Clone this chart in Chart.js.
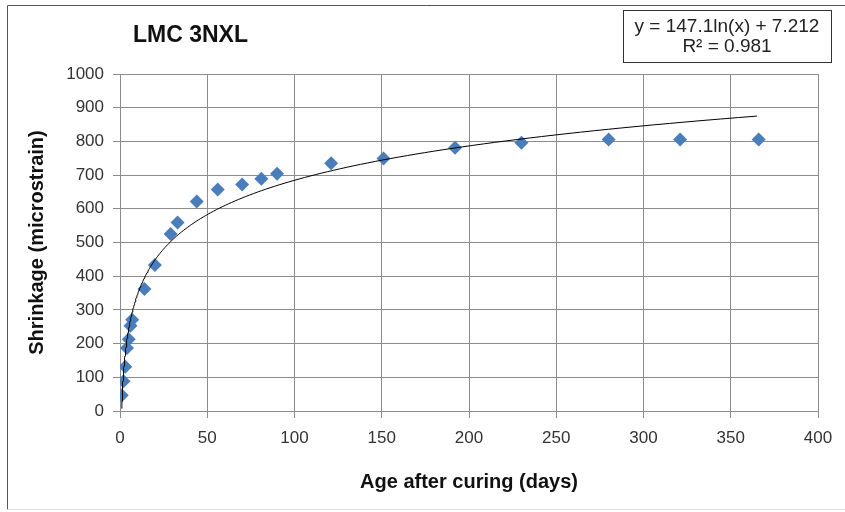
<!DOCTYPE html>
<html>
<head>
<meta charset="utf-8">
<script src="https://cdn.jsdelivr.net/npm/chart.js@4"></script>
<style>
  html, body { margin: 0; padding: 0; background: #fff; }
  .chart { position: relative; width: 845px; height: 512px; }
</style>
</head>
<body>
<div class="chart"><canvas id="myChart" width="845" height="512"></canvas></div>
<script>
// measured shrinkage vs. age after curing
const ageDays = [1, 2, 3, 4, 5, 6, 7, 14, 20, 29, 33, 44, 56, 70, 81, 90, 121, 151, 192, 230, 280, 321, 366];
const shrinkage = [47, 88, 131, 187, 213, 253, 271, 362, 433, 525, 559, 622, 657, 672, 689, 704, 735, 749, 781, 796, 806, 806, 806];

// log trendline y = a ln(x) + b
const trendA = 147.1;
const trendB = 7.212;
const trendR2 = 0.981;
const trendFrom = 1;
const trendTo = 365;

const xTicks = [0, 50, 100, 150, 200, 250, 300, 350, 400];
const yTicks = [0, 100, 200, 300, 400, 500, 600, 700, 800, 900, 1000];

let trendPts = [];
for (let i = 0; i <= 200; i++) {
    let x = trendFrom * Math.pow(trendTo / trendFrom, i / 200);
    trendPts.push({x: x, y: trendA * Math.log(x) + trendB});
}

const gridColor = '#8c8c8c';
const fontFam = '"Liberation Sans", Arial, sans-serif';

// title, equation box and outer frame
const decor = {
    id: 'decor',
    afterDraw(chart) {
        const c = chart.ctx;
        c.save();
        c.strokeStyle = '#555';
        c.lineWidth = 1;
        c.beginPath();
        c.moveTo(7.5, 509.5);
        c.lineTo(7.5, 5.5);
        c.lineTo(845, 5.5);
        c.stroke();
        c.strokeStyle = '#ddd';
        c.beginPath();
        c.moveTo(7.5, 509.5);
        c.lineTo(845, 509.5);
        c.stroke();

        c.fillStyle = '#111';
        c.font = 'bold 23px ' + fontFam;
        c.textBaseline = 'alphabetic';
        c.textAlign = 'left';
        c.fillText('LMC 3NXL', 133, 42);

        c.strokeStyle = '#333';
        c.strokeRect(623.5, 10.5, 208, 52);
        c.fillStyle = '#222';
        c.font = '19px ' + fontFam;
        c.textAlign = 'center';
        c.textBaseline = 'middle';
        c.fillText('y = ' + trendA + 'ln(x) + ' + trendB, 727, 27);
        c.fillText('R² = ' + trendR2, 727, 47);
        c.restore();
    }
};

let ctx = document.querySelector('#myChart').getContext('2d');
let myChart = new Chart(ctx, {
    type: 'scatter',
    data: {
        datasets: [{
            label: 'Shrinkage',
            data: ageDays.map((d, i) => ({x: d, y: shrinkage[i]})),
            pointStyle: 'rectRot',
            pointRadius: 7,
            pointHoverRadius: 7,
            backgroundColor: '#4a7ebb',
            borderColor: '#4a7ebb',
            borderWidth: 0,
            order: 2
        }, {
            label: 'Log trend',
            data: trendPts,
            showLine: true,
            pointRadius: 0,
            borderColor: '#000',
            borderWidth: 1,
            order: 1
        }]
    },
    options: {
        responsive: false,
        animation: false,
        layout: { padding: { left: 7, right: 27, top: 74, bottom: 11 } },
        plugins: { legend: { display: false }, tooltip: { enabled: false } },
        scales: {
            x: {
                type: 'linear',
                min: 0, max: 400,
                afterBuildTicks: (s) => { s.ticks = xTicks.map(v => ({value: v})); },
                afterFit: (s) => { s.height = 512 - 11 - 411; },
                grid: { color: gridColor, tickLength: 7 },
                border: { color: gridColor },
                ticks: { color: '#333', padding: 10, font: { family: fontFam, size: 17 },
                         callback: (v) => String(v) },
                title: {
                    display: true,
                    text: 'Age after curing (days)',
                    color: '#111',
                    font: { family: fontFam, size: 20, weight: 'bold' },
                    padding: { top: 0, bottom: 7 }
                }
            },
            y: {
                type: 'linear',
                min: 0, max: 1000,
                afterBuildTicks: (s) => { s.ticks = yTicks.map(v => ({value: v})); },
                afterFit: (s) => { s.width = 113; },
                grid: { color: gridColor, tickLength: 7 },
                border: { color: gridColor },
                ticks: { color: '#333', padding: 9, font: { family: fontFam, size: 17 },
                         callback: (v) => String(v) },
                title: {
                    display: true,
                    text: 'Shrinkage (microstrain)',
                    color: '#111',
                    font: { family: fontFam, size: 20, weight: 'bold' },
                    padding: { top: 18, bottom: 0 }
                }
            }
        }
    },
    plugins: [decor]
});
</script>
</body>
</html>
